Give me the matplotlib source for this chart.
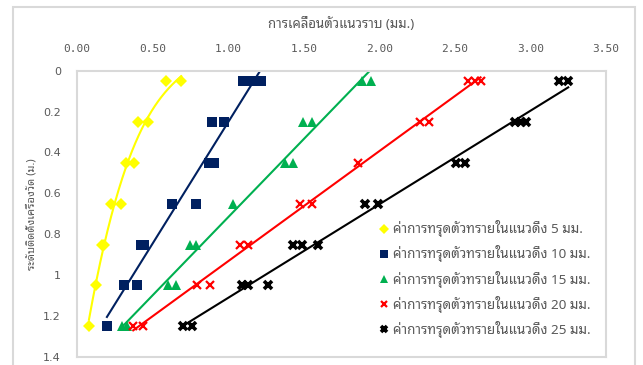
import matplotlib
matplotlib.use("Agg")
import matplotlib.pyplot as plt
import numpy as np
from matplotlib.patches import Rectangle

THAI = ['Noto Sans Thai Looped', 'DejaVu Sans']

# depths (m)
depth_5 = [0.05, 0.05, 0.25, 0.25, 0.45, 0.45, 0.65, 0.65, 0.85, 0.85, 1.05, 1.25]
disp_5 = [0.59, 0.69, 0.405, 0.468, 0.324, 0.379, 0.225, 0.289, 0.163, 0.179, 0.124, 0.079]

depth_10 = [0.05, 0.05, 0.05, 0.25, 0.25, 0.45, 0.45, 0.65, 0.65, 0.85, 0.85, 1.05, 1.05, 1.25]
disp_10 = [1.10, 1.16, 1.22, 0.895, 0.972, 0.873, 0.906, 0.626, 0.79, 0.425, 0.445, 0.311, 0.395, 0.198]

depth_15 = [0.05, 0.05, 0.25, 0.25, 0.45, 0.45, 0.65, 0.85, 0.85, 1.05, 1.05, 1.25, 1.25]
disp_15 = [1.885, 1.945, 1.495, 1.554, 1.376, 1.429, 1.03, 0.747, 0.79, 0.604, 0.653, 0.296, 0.329]

depth_20 = [0.05, 0.05, 0.05, 0.25, 0.25, 0.45, 0.65, 0.65, 0.85, 0.85, 1.05, 1.05, 1.25, 1.25]
disp_20 = [2.59, 2.63, 2.67, 2.27, 2.33, 1.857, 1.475, 1.552, 1.078, 1.133, 0.792, 0.88, 0.372, 0.438]

depth_25 = [0.05, 0.05, 0.25, 0.25, 0.25, 0.45, 0.45, 0.65, 0.65, 0.85, 0.85, 0.85, 1.05, 1.05, 1.05, 1.25, 1.25]
disp_25 = [3.19, 3.25, 2.90, 2.94, 2.97, 2.51, 2.57, 1.905, 1.99, 1.43, 1.486, 1.596, 1.09, 1.133, 1.265, 0.703, 0.758]

labels = ['ค่าการทรุดตัวทรายในแนวดิ่ง 5 มม.',
          'ค่าการทรุดตัวทรายในแนวดิ่ง 10 มม.',
          'ค่าการทรุดตัวทรายในแนวดิ่ง 15 มม.',
          'ค่าการทรุดตัวทรายในแนวดิ่ง 20 มม.',
          'ค่าการทรุดตัวทรายในแนวดิ่ง 25 มม.']

x_ticks = [0.0, 0.5, 1.0, 1.5, 2.0, 2.5, 3.0, 3.5]
y_ticks = [0, 0.2, 0.4, 0.6, 0.8, 1.0, 1.2, 1.4]
y_tick_labels = ['0', '0.2', '0.4', '0.6', '0.8', '1', '1.2', '1.4']

series = [
    (disp_5, depth_5, '#FFFF00', 'D', 6.0, 0, 3),
    (disp_10, depth_10, '#002060', 's', 6.5, 0, 1),
    (disp_15, depth_15, '#00B050', '^', 7.0, 0, 1),
    (disp_20, depth_20, '#FF0000', 'x', 6.0, 1.6, 1),
    (disp_25, depth_25, '#000000', 'x', 5.5, 2.6, 1),
]

fig = plt.figure(figsize=(6.43, 3.65), dpi=100)
fig.patches.append(Rectangle((12.5 / 643, -0.01), (635 - 12.5) / 643, 1 - 7 / 365 + 0.01,
                             transform=fig.transFigure, fill=False,
                             edgecolor='#D9D9D9', linewidth=1.5))
ax = fig.add_axes([77 / 643, 1 - 357 / 365, (606 - 77) / 643, (357 - 70.7) / 365])

handles = []
for xs, ys, col, mk, ms, mew, deg in series:
    xs = np.asarray(xs); ys = np.asarray(ys)
    coef = np.polyfit(xs, ys, deg)
    xx = np.linspace(xs.min(), xs.max(), 200)
    ax.plot(xx, np.polyval(coef, xx), color=col, linewidth=1.5, zorder=2)
    if mk == 'x':
        h, = ax.plot(xs, ys, linestyle='none', marker=mk, markersize=ms,
                     markeredgewidth=mew, color=col, zorder=3)
    else:
        h, = ax.plot(xs, ys, linestyle='none', marker=mk, markersize=ms,
                     markeredgewidth=0, color=col, zorder=3)
    handles.append(h)

ax.set_xlim(0, 3.5)
ax.set_ylim(1.4, 0)
ax.xaxis.tick_top()
ax.xaxis.set_label_position('top')
ax.set_xticks(x_ticks)
ax.set_xticklabels(['%.2f' % v for v in x_ticks], family='DejaVu Sans Mono',
                   fontsize=8, color='#595959')
ax.set_yticks(y_ticks)
ax.set_yticklabels(y_tick_labels, fontsize=8, color='#595959')
ax.tick_params(axis='both', length=0)
ax.tick_params(axis='x', pad=12)
ax.tick_params(axis='y', pad=11.5)
for s in ax.spines.values():
    s.set_color('#D9D9D9')
    s.set_linewidth(1.5)

fig.text(341 / 643, 1 - 24 / 365, 'การเคลื่อนตัวแนวราบ (มม.)', family=THAI,
         fontsize=9.5, color='#595959', ha='center', va='center')
fig.text(32 / 643, 1 - 214 / 365, 'ระดับติดตั้งเครื่องวัด (ม.)', family=THAI,
         fontsize=8, color='#595959', ha='center', va='center', rotation=90)

leg = ax.legend(handles, labels, loc='lower right', bbox_to_anchor=(0.994, 0.025),
                frameon=False, prop={'family': THAI, 'size': 9.7},
                handlelength=0.75, handletextpad=0.3, labelspacing=0.6,
                markerscale=0.8, borderaxespad=0.5)
for t in leg.get_texts():
    t.set_color('#595959')

fig.savefig('out.png', dpi=100)
